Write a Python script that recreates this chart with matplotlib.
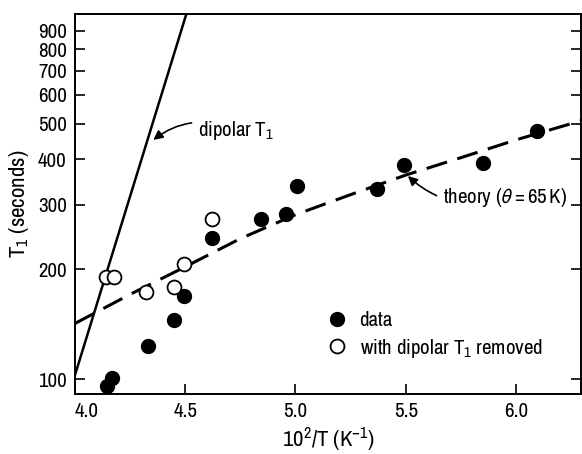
import matplotlib
matplotlib.use("Agg")
import matplotlib.pyplot as plt
from matplotlib.lines import Line2D
from matplotlib.ticker import FixedLocator, FixedFormatter, NullLocator

plt.rcParams['font.family'] = ['Archivo Narrow', 'Liberation Sans', 'DejaVu Sans']
plt.rcParams['mathtext.fontset'] = 'custom'
plt.rcParams['mathtext.rm'] = 'Archivo Narrow'
plt.rcParams['mathtext.it'] = 'Archivo Narrow:italic'
plt.rcParams['mathtext.fallback'] = 'stixsans'

# data (filled circles)
data_x = [4.144, 4.167, 4.329, 4.450, 4.495, 4.622, 4.842, 4.955, 5.005, 5.369, 5.491, 5.851, 6.095]
data_T1 = [95.7, 100.6, 123.1, 145.1, 168.8, 243.4, 274.5, 283.2, 338, 331.6, 385.8, 390.7, 478]

# with dipolar T1 removed (open circles)
removed_x = [4.140, 4.176, 4.320, 4.450, 4.495, 4.622]
removed_T1 = [190.4, 190.4, 173, 178.6, 206.5, 274.5]

# theory curve (theta = 65 K)
theory_x = [4.0, 4.25, 4.5, 4.75, 5.0, 5.25, 5.5, 5.75, 6.0, 6.3]
theory_T1 = [142, 170.6, 203, 242.5, 282, 320, 362, 404, 452, 511]

# dipolar T1 line
dipolar_x = [4.0, 4.505]
dipolar_T1 = [102.6, 1000]

yticks = [100, 200, 300, 400, 500, 600, 700, 800, 900]
xticks = [4.0, 4.5, 5.0, 5.5, 6.0]

fig = plt.figure(figsize=(5.82, 4.54), dpi=100)
ax = fig.add_axes([75/582, 1-394/454, 506/582, 380/454])

ax.plot(dipolar_x, dipolar_T1, color='black', lw=1.8)
ax.plot(theory_x, theory_T1, color='black', lw=2.2, dashes=(7, 3.5))
ax.plot(data_x, data_T1, 'o', color='black', ms=10, mec='black')
ax.plot(removed_x, removed_T1, 'o', mfc='white', mec='black', ms=10, mew=1.3)

ax.set_yscale('log')
ax.set_xlim(4.0, 6.295)
ax.set_ylim(91, 1000)
ax.yaxis.set_major_locator(FixedLocator(yticks))
ax.yaxis.set_major_formatter(FixedFormatter([str(v) for v in yticks]))
ax.yaxis.set_minor_locator(NullLocator())
ax.set_xticks(xticks)
ax.set_xticklabels([f"{v:.1f}" for v in xticks])

ax.tick_params(axis='both', direction='in', length=7, width=1.2, labelsize=15, pad=6)
ax.tick_params(axis='y', right=True)
ax.tick_params(axis='x', top=False)
for s in ax.spines.values():
    s.set_linewidth(1.4)
ax.get_xticklabels()[0].set_horizontalalignment('left')

ax.set_ylabel('T$_1$ (seconds)', fontsize=16.5, labelpad=5)
ax.set_xlabel('10$^2$/T (K$^{-1}$)', fontsize=16.5, labelpad=3)

ax.annotate('dipolar T$_1$', xy=(4.355, 452), xytext=(4.56, 480),
            fontsize=15, va='center', ha='left',
            arrowprops=dict(arrowstyle='-|>', color='black', lw=1.2,
                            connectionstyle='arc3,rad=0.3', mutation_scale=14,
                            shrinkA=3, shrinkB=0))
ax.annotate('theory ($\\theta = 65\\,$K)', xy=(5.51, 360), xytext=(5.67, 315),
            fontsize=15, va='center', ha='left',
            arrowprops=dict(arrowstyle='-|>', color='black', lw=1.2,
                            connectionstyle='arc3,rad=-0.3', mutation_scale=14,
                            shrinkA=3, shrinkB=0))

handles = [Line2D([], [], ls='none', marker='o', color='black', ms=10),
           Line2D([], [], ls='none', marker='o', mfc='white', mec='black', ms=10, mew=1.3)]
ax.legend(handles, ['data', 'with dipolar T$_1$ removed'], loc='upper left',
          bbox_to_anchor=(0.476, 0.245), frameon=False, fontsize=15,
          handlelength=1.0, handletextpad=0.6, labelspacing=0.3, borderpad=0)

fig.savefig('out.png', dpi=100)
